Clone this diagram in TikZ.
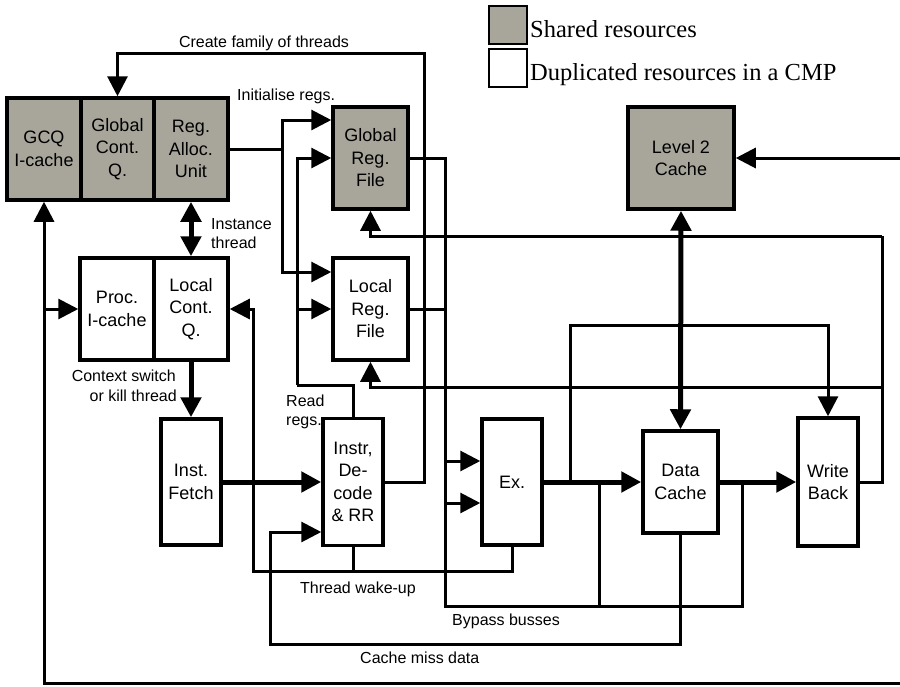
\documentclass[tikz,border=0pt]{standalone}
\usepackage{fontspec}
\setmainfont{Liberation Serif}
\setsansfont{Liberation Sans}
\usetikzlibrary{arrows.meta}
\definecolor{shared}{RGB}{168,166,155}
\tikzset{
  box/.style={draw, line width=3.5pt, inner sep=0pt, align=center, fill=white,
    font=\sffamily\fontsize{18}{22.5}\selectfont},
  sbox/.style={box, fill=shared},
  wire/.style={line width=3pt},
  fat/.style={line width=5pt},
  arrowend/.style={-{Triangle[length=20pt,width=20pt]}},
  lbl/.style={inner sep=0pt, font=\sffamily\fontsize{16}{19.5}\selectfont},
  leg/.style={inner sep=0pt, font=\fontsize{24.5}{29}\selectfont},
  legbox/.style={draw, line width=2.2pt, minimum width=38pt, minimum height=38pt, inner sep=0pt},
}
\begin{document}
\begin{tikzpicture}[x=1pt,y=-1pt]
\useasboundingbox (0,0) rectangle (900,686);

% legend
\node[legbox, fill=shared] (lgs) at (508,25) {};
\node[legbox, fill=white] (lgd) at (508,68) {};
\node[leg, anchor=base west] (lgst) at (530,37) {Shared resources};
\node[leg, anchor=base west] (lgdt) at (530,80) {Duplicated resources in a CMP};

% boxes
\node[sbox, minimum width=74pt, minimum height=102pt] (gcq) at (44,149) {GCQ\\I-cache};
\node[sbox, minimum width=73pt, minimum height=102pt] (gcont) at (117.5,149) {Global\\Cont.\\Q.};
\node[sbox, minimum width=74pt, minimum height=102pt] (ralloc) at (191,149) {Reg.\\Alloc.\\Unit};
\node[sbox, minimum width=75pt, minimum height=102pt] (greg) at (370.5,158) {Global\\Reg.\\File};
\node[sbox, minimum width=106pt, minimum height=102pt] (l2) at (681,158) {Level 2\\Cache};
\node[box, minimum width=74pt, minimum height=102pt] (picache) at (117,309) {Proc.\\I-cache};
\node[box, minimum width=74pt, minimum height=102pt] (lcq) at (191,309) {Local\\Cont.\\Q.};
\node[box, minimum width=75pt, minimum height=102pt] (lreg) at (370.5,309) {Local\\Reg.\\File};
\node[box, minimum width=60pt, minimum height=126pt] (fetch) at (191,482) {Inst.\\Fetch};
\node[box, minimum width=60pt, minimum height=127pt] (instr) at (353,482) {Instr,\\De-\\code\\\& RR};
\node[box, minimum width=60pt, minimum height=126pt] (ex) at (512,482) {Ex.};
\node[box, minimum width=75pt, minimum height=102pt] (dc) at (680.5,482) {Data\\Cache};
\node[box, minimum width=60pt, minimum height=128pt] (wb) at (828,482) {Write\\Back};

% coordinates for free ends
\coordinate (l2in) at (900,158);
\coordinate (botin) at (900,683);

% create family of threads
\draw[wire, arrowend] (instr.east) -| (424,53) -| (gcont.north);
% initialise regs
\draw[wire] (ralloc.east) -- (282,149);
\draw[wire, arrowend] (282,149) |- (greg.west |- 0,120);
\draw[wire, arrowend] (282,149) |- (lreg.west |- 0,272);
% read regs
\draw[wire] (instr.north) |- (297,385);
\draw[wire, arrowend] (297,385) |- (greg.west);
\draw[wire, arrowend] (297,309) -- (lreg.west);
% register outputs and bypass
\draw[wire] (greg.east) -| (445,606) -| (742,482);
\draw[wire] (lreg.east) -- (445,309);
\draw[wire, arrowend] (445,461) -- (ex.west |- 0,461);
\draw[wire, arrowend] (445,503) -- (ex.west |- 0,503);
\draw[wire] (599,482) -- (599,606);
% pipeline
\draw[fat, arrowend] (fetch.east) -- (instr.west);
\draw[fat, arrowend] (ex.east) -- (dc.west);
\draw[fat, arrowend] (dc.east) -- (wb.west);
\draw[wire, arrowend] (570,482) -- (570,325) -| (wb.north);
\draw[fat, {Triangle[length=20pt,width=20pt]}-{Triangle[length=20pt,width=20pt]}] (l2.south) -- (dc.north);
\draw[wire, arrowend] (l2in) -- (l2.east);
% write back to register files
\draw[wire] (wb.east) -| (882,236);
\draw[wire, arrowend] (882,236) -| (greg.south);
\draw[wire, arrowend] (882,387) -| (lreg.south);
% cache miss data
\draw[wire, arrowend] (dc.south) |- (270,644) |- (instr.west |- 0,532);
% thread wake-up
\draw[wire, arrowend] (ex.south) |- (253,571) |- (lcq.east);
\draw[wire] (instr.south) -- (353,571);
% instance thread, context switch
\draw[fat, {Triangle[length=20pt,width=20pt]}-{Triangle[length=20pt,width=20pt]}] (ralloc.south) -- (lcq.north);
\draw[fat, arrowend] (lcq.south) -- (fetch.north);
% left loop
\draw[wire, arrowend] (botin) -| (gcq.south);
\draw[wire, arrowend] (44,309) -- (picache.west);

% labels
\node[lbl, anchor=base] (tcreate) at (264,47) {Create family of threads};
\node[lbl, anchor=base west] (tinit) at (237,100) {Initialise regs.};
\node[lbl, anchor=base west] (tinst1) at (211,229) {Instance};
\node[lbl, anchor=base west] (tinst2) at (211,248) {thread};
\node[lbl, anchor=base east] (tctx1) at (176,381) {Context switch};
\node[lbl, anchor=base east] (tctx2) at (177,401) {or kill thread};
\node[lbl, anchor=base west] (tread1) at (286,406) {Read};
\node[lbl, anchor=base west] (tread2) at (286,425) {regs.};
\node[lbl, anchor=base west] (twake) at (300,593) {Thread wake-up};
\node[lbl, anchor=base west] (tbyp) at (452,625) {Bypass busses};
\node[lbl, anchor=base west] (tmiss) at (360,663) {Cache miss data};
\end{tikzpicture}
\end{document}
